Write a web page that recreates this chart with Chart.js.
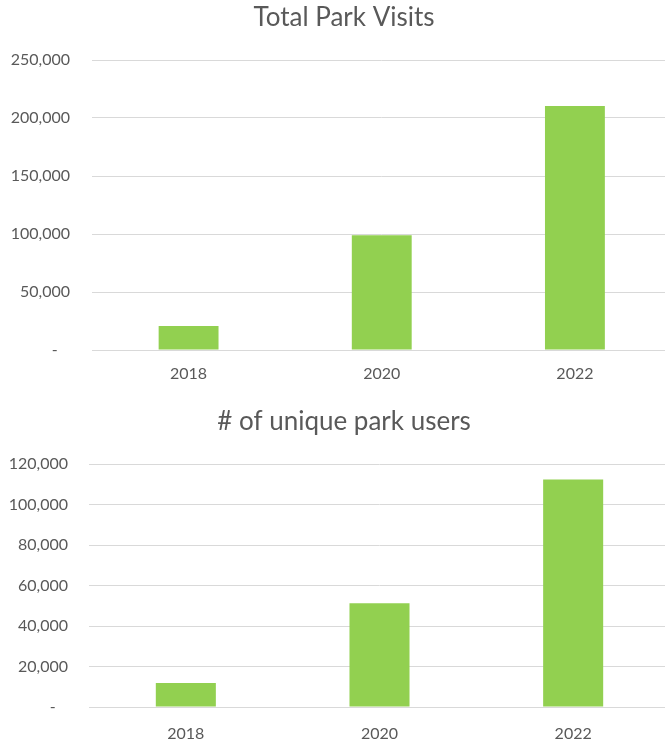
<!DOCTYPE html>
<html>
<head>
<meta charset="utf-8">
<script src="https://cdn.jsdelivr.net/npm/chart.js@4"></script>
<style>
html,body{margin:0;padding:0;background:#fff;overflow:hidden;width:665px;height:742px;}
canvas{display:block;}
</style>
</head>
<body>
<canvas id="c1" width="688" height="390"></canvas>
<canvas id="c2" width="688" height="352"></canvas>
<script>
const years = ['2018', '2020', '2022'];
const totalVisits = [20700, 98900, 210300];
const uniqueUsers = [11900, 51200, 112300];
const visitsTicks = {max: 250000, step: 50000};
const usersTicks = {max: 120000, step: 20000};
const titles = ['Total Park Visits', '# of unique park users'];

const TXT = '#595959';
const GRID = '#d9d9d9';
const BAR = '#92d050';
const FONT = 'Lato';

function fmt(v){
  if (v === 0) return '-   ';
  return v.toLocaleString('en-US');
}

function make(id, title, data, tk, o){
  return new Chart(document.getElementById(id), {
    type: 'bar',
    data: {labels: years, datasets: [{data: data, backgroundColor: BAR, borderWidth: 0,
      barPercentage: 0.31, categoryPercentage: 1}]},
    options: {
      responsive: false, animation: false, devicePixelRatio: 1,
      layout: {padding: 0},
      plugins: {
        legend: {display: false}, tooltip: {enabled: false},
        title: {display: true, text: title, color: TXT,
          font: {family: FONT, size: 26, weight: 'normal', lineHeight: 1.2},
          padding: {top: o.tTop, bottom: o.tBot}}
      },
      scales: {
        x: {
          grid: {display: false, drawTicks: false},
          border: {display: true, color: GRID, width: 1},
          ticks: {color: TXT, font: {family: FONT, size: 16}, padding: o.xPad},
          afterFit: s => { s.height = o.xH; }
        },
        y: {
          min: 0, max: tk.max,
          grid: {color: GRID, lineWidth: 1, drawTicks: false},
          border: {display: false},
          ticks: {stepSize: tk.step, color: TXT, font: {family: FONT, size: 16}, padding: o.yPad,
            callback: v => fmt(v)},
          afterFit: s => { s.width = o.yW; }
        },
        r: {
          position: 'right', display: true,
          grid: {display: false, drawTicks: false}, border: {display: false},
          ticks: {display: false},
          afterFit: s => { s.width = o.rW; }
        }
      }
    }
  });
}

make('c1', titles[0], totalVisits, visitsTicks, {tTop: 2, tBot: 26.8, xPad: 14, xH: 40, yPad: 22, yW: 92, rW: 16.5});
make('c2', titles[1], uniqueUsers, usersTicks, {tTop: 16.4, tBot: 26.4, xPad: 17, xH: 35, yPad: 21, yW: 89, rW: 18});
</script>
</body>
</html>
